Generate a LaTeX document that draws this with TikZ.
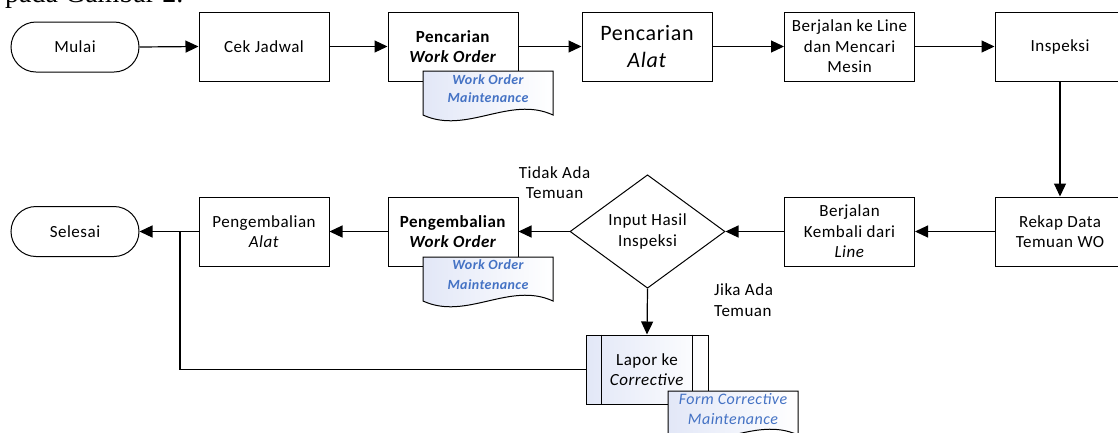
\documentclass[tikz,border=0pt]{standalone}
\usepackage{fontspec}
\setmainfont{Carlito}[LetterSpace=3]
\newfontfamily\capserif{Liberation Serif}
\usetikzlibrary{shapes.geometric,shapes.misc,arrows.meta,calc}
\definecolor{docblue}{RGB}{68,114,196}
\definecolor{docfill}{RGB}{226,231,247}
\tikzset{
  docshape/.style={draw, line width=1pt, left color=docfill, right color=white},
  doctext/.style={minimum width=130pt, minimum height=36pt, inner sep=0pt, align=center, text=docblue}
}
\newcommand\docat[5]{%
  \begin{scope}[shift={(#2,#3)}]
    \draw[docshape] (-65,-18) -- (65,-18) -- (65,26) .. controls (21.7,6) and (-21.7,46) .. (-65,26) -- cycle;
  \end{scope}
  \node[doctext, font=#5] (#1) at (#2,#3) {#4};
}
\begin{document}
\begin{tikzpicture}[x=1pt,y=-1pt,
  every node/.style={font=\fontsize{17}{20.5}\selectfont},
  box/.style={draw, line width=1pt, minimum width=130pt, minimum height=69pt, inner sep=1pt, align=center},
  term/.style={draw, line width=1pt, rounded rectangle, minimum width=130pt, minimum height=50pt, inner sep=1pt},
  dec/.style={draw, line width=1pt, diamond, minimum width=155pt, minimum height=83pt, inner sep=0pt, align=center},
  link/.style={line width=1.2pt, -{Triangle[length=13pt,width=12pt]}},
  plain/.style={line width=1.2pt},
  lbl/.style={align=center, inner sep=0pt}
]
\fill[white] (0,0) rectangle (1118,432);
\useasboundingbox (0,0) rectangle (1118,432);

\node[anchor=base west, inner sep=0pt, font=\capserif\fontsize{28}{30}\selectfont] (cap) at (5,2) {pada Gambar 2.};

% row 1
\node[term] (mulai) at (75,47) {Mulai};
\node[box] (cek) at (264,46.5) {Cek Jadwal};
\node[box] (pwo) at (453,46.5) {\textbf{Pencarian}\\\textbf{\textit{Work Order}}};
\node[box, font=\fontsize{22}{27}\selectfont] (alat) at (647,46.5) {Pencarian\\\textit{Alat}};
\node[box] (bl) at (849.5,46.5) {Berjalan ke Line\\dan Mencari\\Mesin};
\node[box] (insp) at (1060,46.5) {Inspeksi};

% row 2
\node[term] (selesai) at (75,231.5) {Selesai};
\node[box] (pa) at (264,231.5) {Pengembalian\\\textit{Alat}};
\node[box] (pwo2) at (453,231.5) {\textbf{Pengembalian}\\\textbf{\textit{Work Order}}};
\node[dec] (dec) at (647.5,231.5) {Input Hasil\\Inspeksi};
\node[box] (bk) at (849.5,231.5) {Berjalan\\Kembali dari\\\textit{Line}};
\node[box] (rekap) at (1060,231.5) {Rekap Data\\Temuan WO};

% row 3
\node[box, minimum width=122pt, left color=docfill, right color=white] (lapor) at (647,369.5) {Lapor ke\\\textit{Corrective}};
\draw[line width=1pt] ($(lapor.north west)+(16,0)$) -- ($(lapor.south west)+(16,0)$);
\draw[line width=1pt] ($(lapor.north east)+(-16,0)$) -- ($(lapor.south east)+(-16,0)$);

% labels
\node[lbl] (tidak) at (554.5,182.5) {Tidak Ada\\Temuan};
\node[lbl, align=left, anchor=west] (jika) at (714,300) {Jika Ada\\Temuan};

% connectors
\draw[link] (mulai.east) -- (cek.west);
\draw[link] (cek.east) -- (pwo.west);
\draw[link] (pwo.east) -- (alat.west);
\draw[link] (alat.east) -- (bl.west);
\draw[link] (bl.east) -- (insp.west);
\draw[link] (insp.south) -- (rekap.north);
\draw[link] (rekap.west) -- (bk.east);
\draw[link] (bk.west) -- (dec.east);
\draw[link] (dec.west) -- (pwo2.east);
\draw[link] (pwo2.west) -- (pa.east);
\draw[link] (pa.west) -- (selesai.east);
\draw[link] (dec.south) -- (lapor.north);
\coordinate (j) at (180,231.5);
\draw[plain] (lapor.west) -| (j);

% documents
\docat{doc1}{488}{89}{Work Order\\Maintenance}{\fontsize{14}{18}\selectfont\bfseries\itshape}
\docat{doc2}{488}{275}{Work Order\\Maintenance}{\fontsize{14}{20}\selectfont\bfseries\itshape}
\docat{doc3}{733}{409}{Form Corrective\\Maintenance}{\fontsize{16}{20}\selectfont\itshape}
\end{tikzpicture}
\end{document}
